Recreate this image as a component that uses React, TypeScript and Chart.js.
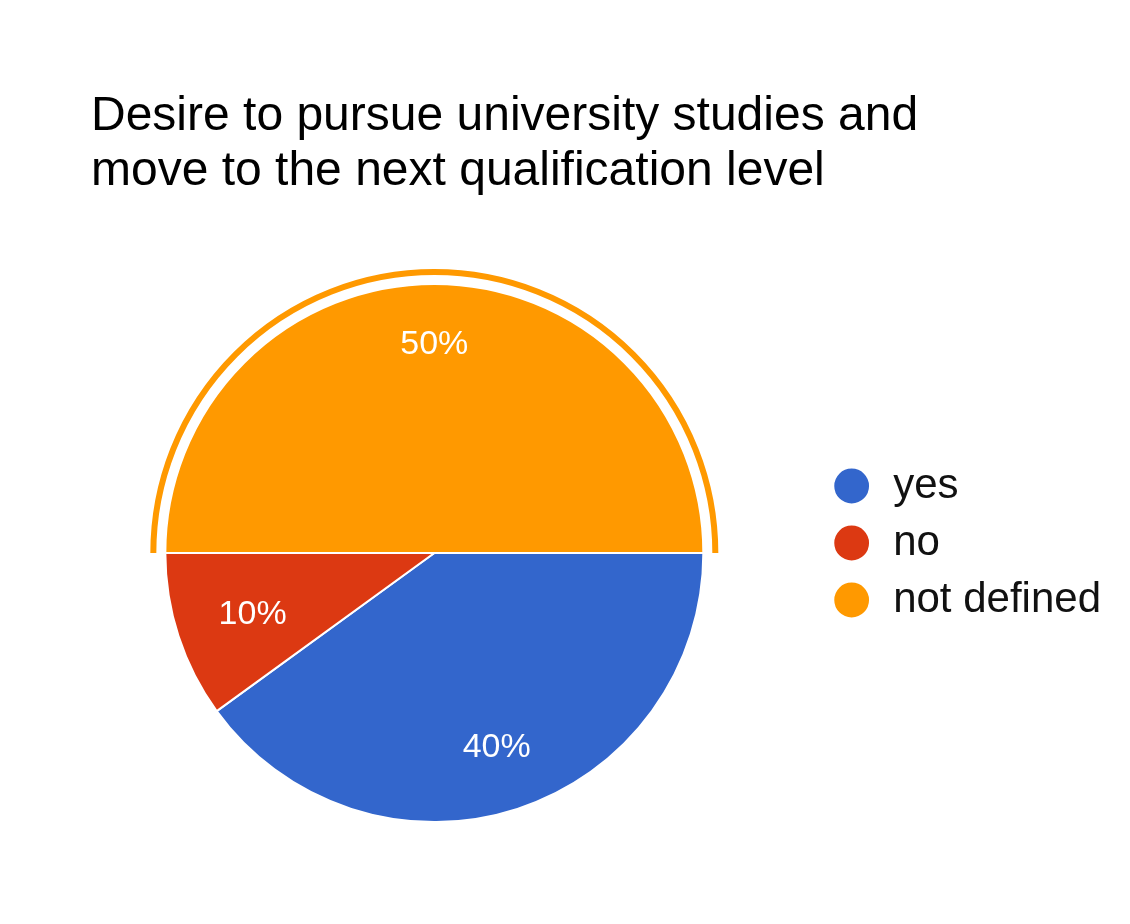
import React, { useEffect, useRef } from 'react';
import { Chart, registerables, layouts } from 'chart.js';

Chart.register(...registerables);

const TITLE_LINES = ['Desire to pursue university studies and', 'move to the next qualification level'];
const CATEGORIES = ['yes', 'no', 'not defined'];
const VALUES = [40, 10, 50];
const COLORS = ['#3366CC', '#DC3912', '#FF9900'];
const HIGHLIGHT_INDEX = 2;

const FONT = '"Liberation Sans", Arial, sans-serif';
const TITLE_SIZE = 48;
const TITLE_X = 91;
const TITLE_BASELINE = 130;
const TITLE_LINE_GAP = 55;
const LABEL_SIZE = 34;
const LEGEND_SIZE = 42;

const titleBoxPlugin = {
  id: 'leftTitle',
  beforeInit(chart: any) {
    const box: any = {
      position: 'top',
      weight: 2000,
      fullSize: true,
      options: {},
      left: 0, top: 0, right: 0, bottom: 0, width: 0, height: 0,
      isHorizontal() { return true; },
      update(maxWidth: number) { this.width = maxWidth; this.height = 20; },
      draw() {
        const ctx = chart.ctx;
        ctx.save();
        ctx.fillStyle = '#000';
        ctx.font = `${TITLE_SIZE}px ${FONT}`;
        ctx.textAlign = 'left';
        ctx.textBaseline = 'alphabetic';
        TITLE_LINES.forEach((line, i) => ctx.fillText(line, TITLE_X, TITLE_BASELINE + i * TITLE_LINE_GAP));
        ctx.restore();
      },
    };
    layouts.addBox(chart, box);
  },
};

const sliceLabelPlugin = {
  id: 'sliceLabels',
  afterDatasetsDraw(chart: any) {
    const ctx = chart.ctx;
    const meta = chart.getDatasetMeta(0);
    const total = VALUES.reduce((a, b) => a + b, 0);
    ctx.save();
    const hl = meta.data[HIGHLIGHT_INDEX];
    if (hl) {
      const p = hl.getProps(['x', 'y', 'startAngle', 'endAngle', 'outerRadius'], true);
      ctx.beginPath();
      ctx.arc(p.x, p.y, p.outerRadius + 12, p.startAngle, p.endAngle);
      ctx.lineWidth = 6;
      ctx.lineCap = 'butt';
      ctx.strokeStyle = COLORS[HIGHLIGHT_INDEX];
      ctx.stroke();
    }
    ctx.font = `${LABEL_SIZE}px ${FONT}`;
    ctx.fillStyle = '#ffffff';
    ctx.textAlign = 'center';
    ctx.textBaseline = 'middle';
    meta.data.forEach((arc: any, i: number) => {
      const { x, y, startAngle, endAngle, outerRadius } = arc.getProps(['x', 'y', 'startAngle', 'endAngle', 'outerRadius'], true);
      const mid = (startAngle + endAngle) / 2;
      const text = Math.round((VALUES[i] / total) * 100) + '%';
      const w = ctx.measureText(text).width;
      const h = LABEL_SIZE;
      const ext = Math.abs(Math.cos(mid)) * w / 2 + Math.abs(Math.sin(mid)) * h / 2;
      const d = outerRadius * 0.85 - ext;
      ctx.fillText(text, x + Math.cos(mid) * d, y + Math.sin(mid) * d + 3);
    });
    ctx.restore();
  },
};

export default function App() {
  const ref = useRef<HTMLCanvasElement>(null);
  useEffect(() => {
    document.body.style.margin = '0';
    if (!ref.current) return;
    const chart = new Chart(ref.current, {
      type: 'pie',
      data: {
        labels: CATEGORIES,
        datasets: [
          {
            data: VALUES,
            backgroundColor: COLORS,
            borderColor: '#ffffff',
            borderWidth: 2,
          },
        ],
      },
      options: {
        responsive: false,
        animation: false,
        events: [],
        rotation: 90,
        layout: { padding: { top: 263, bottom: 101, left: 52.5, right: 19 } },
        plugins: {
          title: { display: false },
          tooltip: { enabled: false },
          legend: {
            position: 'right',
            labels: {
              usePointStyle: true,
              pointStyle: 'circle',
              boxWidth: 41,
              boxHeight: 26,
              padding: 15,
              color: '#111111',
              font: { family: FONT, size: LEGEND_SIZE },
            },
          },
        },
      },
      plugins: [titleBoxPlugin, sliceLabelPlugin],
    });
    return () => chart.destroy();
  }, []);
  return <canvas ref={ref} width={1130} height={924} style={{ display: 'block' }} />;
}
